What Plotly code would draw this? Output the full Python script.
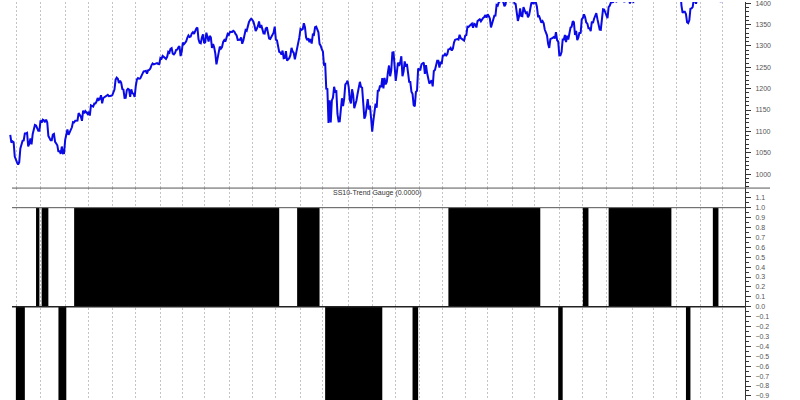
import plotly.graph_objects as go

# ---------------- data ----------------
spx_2010 = [
    ("2010-06-23", 1092.0), ("2010-06-24", 1073.7), ("2010-06-25", 1076.8), ("2010-06-28", 1074.6),
    ("2010-06-29", 1041.2), ("2010-06-30", 1030.7), ("2010-07-01", 1027.4), ("2010-07-02", 1022.6),
    ("2010-07-06", 1028.1), ("2010-07-07", 1060.3), ("2010-07-08", 1070.3), ("2010-07-09", 1078.0),
    ("2010-07-12", 1078.8), ("2010-07-13", 1095.3), ("2010-07-14", 1095.2), ("2010-07-15", 1096.5),
    ("2010-07-16", 1064.9), ("2010-07-19", 1071.3), ("2010-07-20", 1083.5), ("2010-07-21", 1069.6),
    ("2010-07-22", 1093.7), ("2010-07-23", 1102.7), ("2010-07-26", 1115.0), ("2010-07-27", 1113.8),
    ("2010-07-28", 1106.1), ("2010-07-29", 1101.5), ("2010-07-30", 1101.6), ("2010-08-02", 1125.9),
    ("2010-08-03", 1120.5), ("2010-08-04", 1127.2), ("2010-08-05", 1125.8), ("2010-08-06", 1121.6),
    ("2010-08-09", 1127.8), ("2010-08-10", 1121.1), ("2010-08-11", 1089.5), ("2010-08-12", 1083.6),
    ("2010-08-13", 1079.3), ("2010-08-16", 1079.4), ("2010-08-17", 1092.5), ("2010-08-18", 1094.2),
    ("2010-08-19", 1075.6), ("2010-08-20", 1071.7), ("2010-08-23", 1067.4), ("2010-08-24", 1051.9),
    ("2010-08-25", 1055.3), ("2010-08-26", 1047.2), ("2010-08-27", 1064.6), ("2010-08-30", 1048.9),
    ("2010-08-31", 1049.3), ("2010-09-01", 1080.3), ("2010-09-02", 1090.1), ("2010-09-03", 1104.5),
    ("2010-09-07", 1091.8), ("2010-09-08", 1098.9), ("2010-09-09", 1104.2), ("2010-09-10", 1109.6),
    ("2010-09-13", 1121.9), ("2010-09-14", 1121.1), ("2010-09-15", 1125.1), ("2010-09-16", 1124.7),
    ("2010-09-17", 1125.6), ("2010-09-20", 1142.7), ("2010-09-21", 1139.8), ("2010-09-22", 1134.3),
    ("2010-09-23", 1124.8), ("2010-09-24", 1148.7), ("2010-09-27", 1142.2), ("2010-09-28", 1147.7),
    ("2010-09-29", 1144.7), ("2010-09-30", 1141.2), ("2010-10-01", 1146.2), ("2010-10-04", 1137.0),
    ("2010-10-05", 1160.8), ("2010-10-06", 1160.0), ("2010-10-07", 1158.1), ("2010-10-08", 1165.2),
    ("2010-10-11", 1165.3), ("2010-10-12", 1169.8), ("2010-10-13", 1178.1), ("2010-10-14", 1173.8),
    ("2010-10-15", 1176.2), ("2010-10-18", 1184.7), ("2010-10-19", 1165.9), ("2010-10-20", 1178.2),
    ("2010-10-21", 1180.3), ("2010-10-22", 1183.1), ("2010-10-25", 1185.6), ("2010-10-26", 1185.6),
    ("2010-10-27", 1182.4), ("2010-10-28", 1183.8), ("2010-10-29", 1183.3), ("2010-11-01", 1184.4),
    ("2010-11-02", 1193.6), ("2010-11-03", 1198.0), ("2010-11-04", 1221.1), ("2010-11-05", 1225.9),
    ("2010-11-08", 1223.3), ("2010-11-09", 1213.4), ("2010-11-10", 1218.7), ("2010-11-11", 1213.5),
    ("2010-11-12", 1199.2), ("2010-11-15", 1197.8), ("2010-11-16", 1178.3), ("2010-11-17", 1178.6),
    ("2010-11-18", 1196.7), ("2010-11-19", 1199.7), ("2010-11-22", 1197.8), ("2010-11-23", 1180.7),
    ("2010-11-24", 1198.4), ("2010-11-26", 1189.4), ("2010-11-29", 1187.8), ("2010-11-30", 1180.6),
    ("2010-12-01", 1206.1), ("2010-12-02", 1221.5), ("2010-12-03", 1224.7), ("2010-12-06", 1223.1),
    ("2010-12-07", 1223.8), ("2010-12-08", 1228.3), ("2010-12-09", 1233.0), ("2010-12-10", 1240.4),
    ("2010-12-13", 1240.5), ("2010-12-14", 1241.6), ("2010-12-15", 1235.2), ("2010-12-16", 1242.9),
    ("2010-12-17", 1243.9), ("2010-12-20", 1247.1), ("2010-12-21", 1254.6), ("2010-12-22", 1258.8),
    ("2010-12-23", 1256.8), ("2010-12-27", 1257.5), ("2010-12-28", 1258.5), ("2010-12-29", 1259.8),
    ("2010-12-30", 1257.9), ("2010-12-31", 1257.6),
]

spx_2011 = [
    ("2011-01-03", 1271.9), ("2011-01-04", 1270.2), ("2011-01-05", 1276.6), ("2011-01-06", 1273.9),
    ("2011-01-07", 1271.5), ("2011-01-10", 1269.8), ("2011-01-11", 1274.5), ("2011-01-12", 1286.0),
    ("2011-01-13", 1283.8), ("2011-01-14", 1293.2), ("2011-01-18", 1295.0), ("2011-01-19", 1281.9),
    ("2011-01-20", 1280.3), ("2011-01-21", 1283.4), ("2011-01-24", 1290.8), ("2011-01-25", 1291.2),
    ("2011-01-26", 1296.6), ("2011-01-27", 1299.5), ("2011-01-28", 1276.3), ("2011-01-31", 1286.1),
    ("2011-02-01", 1307.6), ("2011-02-02", 1304.0), ("2011-02-03", 1307.1), ("2011-02-04", 1310.9),
    ("2011-02-07", 1319.1), ("2011-02-08", 1324.6), ("2011-02-09", 1320.9), ("2011-02-10", 1321.9),
    ("2011-02-11", 1329.2), ("2011-02-14", 1332.3), ("2011-02-15", 1328.0), ("2011-02-16", 1336.3),
    ("2011-02-17", 1340.4), ("2011-02-18", 1343.0), ("2011-02-22", 1315.4), ("2011-02-23", 1307.4),
    ("2011-02-24", 1306.1), ("2011-02-25", 1319.9), ("2011-02-28", 1327.2), ("2011-03-01", 1306.3),
    ("2011-03-02", 1308.4), ("2011-03-03", 1331.0), ("2011-03-04", 1321.2), ("2011-03-07", 1310.1),
    ("2011-03-08", 1323.3), ("2011-03-09", 1320.0), ("2011-03-10", 1295.1), ("2011-03-11", 1304.3),
    ("2011-03-14", 1296.4), ("2011-03-15", 1281.9), ("2011-03-16", 1256.9), ("2011-03-17", 1273.7),
    ("2011-03-18", 1279.2), ("2011-03-21", 1298.4), ("2011-03-22", 1293.8), ("2011-03-23", 1297.5),
    ("2011-03-24", 1309.7), ("2011-03-25", 1313.8), ("2011-03-28", 1310.2), ("2011-03-29", 1319.4),
    ("2011-03-30", 1328.3), ("2011-03-31", 1325.8), ("2011-04-01", 1332.4), ("2011-04-04", 1332.9),
    ("2011-04-05", 1332.6), ("2011-04-06", 1335.5), ("2011-04-07", 1333.5), ("2011-04-08", 1328.2),
    ("2011-04-11", 1324.5), ("2011-04-12", 1314.2), ("2011-04-13", 1314.4), ("2011-04-14", 1314.5),
    ("2011-04-15", 1319.7), ("2011-04-18", 1305.1), ("2011-04-19", 1312.6), ("2011-04-20", 1330.4),
    ("2011-04-21", 1337.4), ("2011-04-25", 1335.3), ("2011-04-26", 1347.2), ("2011-04-27", 1355.7),
    ("2011-04-28", 1360.5), ("2011-04-29", 1363.6), ("2011-05-02", 1361.2), ("2011-05-03", 1356.6),
    ("2011-05-04", 1347.3), ("2011-05-05", 1335.1), ("2011-05-06", 1340.2), ("2011-05-09", 1346.3),
    ("2011-05-10", 1357.2), ("2011-05-11", 1342.1), ("2011-05-12", 1348.7), ("2011-05-13", 1337.8),
    ("2011-05-16", 1329.5), ("2011-05-17", 1329.0), ("2011-05-18", 1340.7), ("2011-05-19", 1343.6),
    ("2011-05-20", 1333.3), ("2011-05-23", 1317.4), ("2011-05-24", 1316.3), ("2011-05-25", 1320.5),
    ("2011-05-26", 1325.7), ("2011-05-27", 1331.1), ("2011-05-31", 1345.2), ("2011-06-01", 1314.6),
    ("2011-06-02", 1312.9), ("2011-06-03", 1300.2), ("2011-06-06", 1286.2), ("2011-06-07", 1284.9),
    ("2011-06-08", 1279.6), ("2011-06-09", 1289.0), ("2011-06-10", 1271.0), ("2011-06-13", 1271.8),
    ("2011-06-14", 1287.9), ("2011-06-15", 1265.4), ("2011-06-16", 1267.6), ("2011-06-17", 1271.5),
    ("2011-06-20", 1278.4), ("2011-06-21", 1295.5), ("2011-06-22", 1287.1), ("2011-06-23", 1283.5),
    ("2011-06-24", 1268.5), ("2011-06-27", 1280.1), ("2011-06-28", 1296.7), ("2011-06-29", 1307.4),
    ("2011-06-30", 1320.6), ("2011-07-01", 1339.7), ("2011-07-05", 1337.9), ("2011-07-06", 1339.2),
    ("2011-07-07", 1353.2), ("2011-07-08", 1343.8), ("2011-07-11", 1319.5), ("2011-07-12", 1313.6),
    ("2011-07-13", 1317.7), ("2011-07-14", 1308.9), ("2011-07-15", 1316.1), ("2011-07-18", 1305.4),
    ("2011-07-19", 1326.7), ("2011-07-20", 1325.8), ("2011-07-21", 1343.8), ("2011-07-22", 1345.0),
    ("2011-07-25", 1337.4), ("2011-07-26", 1331.9), ("2011-07-27", 1304.9), ("2011-07-28", 1300.7),
    ("2011-07-29", 1292.3), ("2011-08-01", 1286.9), ("2011-08-02", 1254.1), ("2011-08-03", 1260.3),
    ("2011-08-04", 1200.1), ("2011-08-05", 1199.4), ("2011-08-08", 1119.5), ("2011-08-09", 1172.5),
    ("2011-08-10", 1120.8), ("2011-08-11", 1172.6), ("2011-08-12", 1178.8), ("2011-08-15", 1204.5),
    ("2011-08-16", 1192.8), ("2011-08-17", 1193.9), ("2011-08-18", 1140.7), ("2011-08-19", 1123.5),
    ("2011-08-22", 1123.8), ("2011-08-23", 1162.4), ("2011-08-24", 1177.6), ("2011-08-25", 1159.3),
    ("2011-08-26", 1176.8), ("2011-08-29", 1210.1), ("2011-08-30", 1212.9), ("2011-08-31", 1218.9),
    ("2011-09-01", 1204.4), ("2011-09-02", 1174.0), ("2011-09-06", 1165.2), ("2011-09-07", 1198.6),
    ("2011-09-08", 1185.9), ("2011-09-09", 1154.2), ("2011-09-12", 1162.3), ("2011-09-13", 1172.9),
    ("2011-09-14", 1188.7), ("2011-09-15", 1209.1), ("2011-09-16", 1216.0), ("2011-09-19", 1204.1),
    ("2011-09-20", 1202.1), ("2011-09-21", 1166.8), ("2011-09-22", 1129.6), ("2011-09-23", 1136.4),
    ("2011-09-26", 1163.0), ("2011-09-27", 1175.4), ("2011-09-28", 1151.1), ("2011-09-29", 1160.4),
    ("2011-09-30", 1131.4), ("2011-10-03", 1099.2), ("2011-10-04", 1124.0), ("2011-10-05", 1144.0),
    ("2011-10-06", 1165.0), ("2011-10-07", 1155.5), ("2011-10-10", 1194.9), ("2011-10-11", 1195.5),
    ("2011-10-12", 1207.3), ("2011-10-13", 1203.7), ("2011-10-14", 1224.6), ("2011-10-17", 1200.9),
    ("2011-10-18", 1225.4), ("2011-10-19", 1209.9), ("2011-10-20", 1215.4), ("2011-10-21", 1238.3),
    ("2011-10-24", 1254.2), ("2011-10-25", 1229.1), ("2011-10-26", 1242.0), ("2011-10-27", 1284.6),
    ("2011-10-28", 1285.1), ("2011-10-31", 1253.3), ("2011-11-01", 1218.3), ("2011-11-02", 1237.9),
    ("2011-11-03", 1261.2), ("2011-11-04", 1253.2), ("2011-11-07", 1261.1), ("2011-11-08", 1275.9),
    ("2011-11-09", 1229.1), ("2011-11-10", 1239.7), ("2011-11-11", 1263.9), ("2011-11-14", 1251.8),
    ("2011-11-15", 1257.8), ("2011-11-16", 1236.9), ("2011-11-17", 1216.1), ("2011-11-18", 1215.7),
    ("2011-11-21", 1193.0), ("2011-11-22", 1188.0), ("2011-11-23", 1161.8), ("2011-11-25", 1158.7),
    ("2011-11-28", 1192.6), ("2011-11-29", 1195.2), ("2011-11-30", 1247.0), ("2011-12-01", 1244.6),
    ("2011-12-02", 1244.3), ("2011-12-05", 1257.1), ("2011-12-06", 1258.5), ("2011-12-07", 1261.0),
    ("2011-12-08", 1234.4), ("2011-12-09", 1255.2), ("2011-12-12", 1236.5), ("2011-12-13", 1225.7),
    ("2011-12-14", 1211.8), ("2011-12-15", 1215.8), ("2011-12-16", 1219.7), ("2011-12-19", 1205.4),
    ("2011-12-20", 1241.3), ("2011-12-21", 1243.7), ("2011-12-22", 1254.0), ("2011-12-23", 1265.3),
    ("2011-12-27", 1265.4), ("2011-12-28", 1249.6), ("2011-12-29", 1263.0), ("2011-12-30", 1257.6),
]

spx_2012 = [
    ("2012-01-03", 1277.1), ("2012-01-04", 1277.3), ("2012-01-05", 1281.1), ("2012-01-06", 1277.8),
    ("2012-01-09", 1280.7), ("2012-01-10", 1292.1), ("2012-01-11", 1292.5), ("2012-01-12", 1295.5),
    ("2012-01-13", 1289.1), ("2012-01-17", 1293.7), ("2012-01-18", 1308.0), ("2012-01-19", 1314.5),
    ("2012-01-20", 1315.4), ("2012-01-23", 1316.0), ("2012-01-24", 1314.7), ("2012-01-25", 1326.1),
    ("2012-01-26", 1318.4), ("2012-01-27", 1316.3), ("2012-01-30", 1313.0), ("2012-01-31", 1312.4),
    ("2012-02-01", 1324.1), ("2012-02-02", 1325.5), ("2012-02-03", 1344.9), ("2012-02-06", 1344.3),
    ("2012-02-07", 1347.1), ("2012-02-08", 1350.0), ("2012-02-09", 1352.0), ("2012-02-10", 1342.6),
    ("2012-02-13", 1351.8), ("2012-02-14", 1350.5), ("2012-02-15", 1343.2), ("2012-02-16", 1358.0),
    ("2012-02-17", 1361.2), ("2012-02-21", 1362.2), ("2012-02-22", 1357.7), ("2012-02-23", 1363.5),
    ("2012-02-24", 1365.7), ("2012-02-27", 1367.6), ("2012-02-28", 1372.2), ("2012-02-29", 1366.0),
    ("2012-03-01", 1374.1), ("2012-03-02", 1370.0), ("2012-03-05", 1364.3), ("2012-03-06", 1343.4),
    ("2012-03-07", 1352.6), ("2012-03-08", 1366.0), ("2012-03-09", 1370.9), ("2012-03-12", 1371.1),
    ("2012-03-13", 1396.0), ("2012-03-14", 1394.3), ("2012-03-15", 1402.6), ("2012-03-16", 1404.2),
    ("2012-03-19", 1409.8), ("2012-03-20", 1405.5), ("2012-03-21", 1402.9), ("2012-03-22", 1392.8),
    ("2012-03-23", 1397.1), ("2012-03-26", 1416.5), ("2012-03-27", 1412.5), ("2012-03-28", 1405.5),
    ("2012-03-29", 1403.3), ("2012-03-30", 1408.5), ("2012-04-02", 1419.0), ("2012-04-03", 1413.4),
    ("2012-04-04", 1399.0), ("2012-04-05", 1398.1), ("2012-04-09", 1382.2), ("2012-04-10", 1358.6),
    ("2012-04-11", 1368.7), ("2012-04-12", 1387.6), ("2012-04-13", 1370.3), ("2012-04-16", 1369.6),
    ("2012-04-17", 1390.8), ("2012-04-18", 1385.1), ("2012-04-19", 1376.9), ("2012-04-20", 1378.5),
    ("2012-04-23", 1366.9), ("2012-04-24", 1372.0), ("2012-04-25", 1390.7), ("2012-04-26", 1400.0),
    ("2012-04-27", 1403.4), ("2012-04-30", 1397.9), ("2012-05-01", 1405.8), ("2012-05-02", 1402.3),
    ("2012-05-03", 1391.6), ("2012-05-04", 1369.1), ("2012-05-07", 1369.6), ("2012-05-08", 1363.7),
    ("2012-05-09", 1354.6), ("2012-05-10", 1358.0), ("2012-05-11", 1353.4), ("2012-05-14", 1338.4),
    ("2012-05-15", 1330.7), ("2012-05-16", 1324.8), ("2012-05-17", 1304.9), ("2012-05-18", 1295.2),
    ("2012-05-21", 1316.0), ("2012-05-22", 1316.6), ("2012-05-23", 1318.9), ("2012-05-24", 1320.7),
    ("2012-05-25", 1317.8), ("2012-05-29", 1332.4), ("2012-05-30", 1313.3), ("2012-05-31", 1310.3),
    ("2012-06-01", 1278.0), ("2012-06-04", 1278.2), ("2012-06-05", 1285.5), ("2012-06-06", 1315.1),
    ("2012-06-07", 1315.0), ("2012-06-08", 1325.7), ("2012-06-11", 1308.9), ("2012-06-12", 1324.2),
    ("2012-06-13", 1314.9), ("2012-06-14", 1329.1), ("2012-06-15", 1342.8), ("2012-06-18", 1344.8),
    ("2012-06-19", 1358.0), ("2012-06-20", 1355.7), ("2012-06-21", 1325.5), ("2012-06-22", 1335.0),
    ("2012-06-25", 1313.7), ("2012-06-26", 1320.0), ("2012-06-27", 1331.9), ("2012-06-28", 1329.0),
    ("2012-06-29", 1362.2), ("2012-07-02", 1365.5), ("2012-07-03", 1374.0), ("2012-07-05", 1367.6),
    ("2012-07-06", 1354.7), ("2012-07-09", 1352.5), ("2012-07-10", 1341.5), ("2012-07-11", 1341.5),
    ("2012-07-12", 1334.8), ("2012-07-13", 1356.8), ("2012-07-16", 1353.6), ("2012-07-17", 1363.7),
    ("2012-07-18", 1372.8), ("2012-07-19", 1376.5), ("2012-07-20", 1362.7), ("2012-07-23", 1350.5),
    ("2012-07-24", 1338.3), ("2012-07-25", 1337.9), ("2012-07-26", 1360.0), ("2012-07-27", 1386.0),
    ("2012-07-30", 1385.3), ("2012-07-31", 1379.3), ("2012-08-01", 1375.3), ("2012-08-02", 1365.0),
    ("2012-08-03", 1391.0), ("2012-08-06", 1394.2), ("2012-08-07", 1401.4), ("2012-08-08", 1402.2),
    ("2012-08-09", 1402.8), ("2012-08-10", 1405.9), ("2012-08-13", 1404.1), ("2012-08-14", 1403.9),
    ("2012-08-15", 1405.5), ("2012-08-16", 1415.5), ("2012-08-17", 1418.2), ("2012-08-20", 1418.1),
    ("2012-08-21", 1413.2), ("2012-08-22", 1413.5), ("2012-08-23", 1402.1), ("2012-08-24", 1411.1),
    ("2012-08-27", 1410.4), ("2012-08-28", 1409.3), ("2012-08-29", 1410.5), ("2012-08-30", 1399.5),
    ("2012-08-31", 1406.6), ("2012-09-04", 1404.9), ("2012-09-05", 1403.4), ("2012-09-06", 1432.1),
    ("2012-09-07", 1437.9), ("2012-09-10", 1429.1), ("2012-09-11", 1433.6), ("2012-09-12", 1436.6),
    ("2012-09-13", 1460.0), ("2012-09-14", 1465.8), ("2012-09-17", 1461.2), ("2012-09-18", 1459.3),
    ("2012-09-19", 1461.1), ("2012-09-20", 1460.3), ("2012-09-21", 1460.2), ("2012-09-24", 1456.9),
    ("2012-09-25", 1441.6), ("2012-09-26", 1433.3), ("2012-09-27", 1447.2), ("2012-09-28", 1440.7),
    ("2012-10-01", 1444.5), ("2012-10-02", 1445.8), ("2012-10-03", 1451.0), ("2012-10-04", 1461.4),
    ("2012-10-05", 1460.9), ("2012-10-08", 1455.9), ("2012-10-09", 1441.5), ("2012-10-10", 1432.6),
    ("2012-10-11", 1432.8), ("2012-10-12", 1428.6), ("2012-10-15", 1440.1), ("2012-10-16", 1454.9),
    ("2012-10-17", 1460.9), ("2012-10-18", 1457.3), ("2012-10-19", 1433.2), ("2012-10-22", 1433.8),
    ("2012-10-23", 1413.1), ("2012-10-24", 1408.8), ("2012-10-25", 1413.0), ("2012-10-26", 1411.9),
    ("2012-10-31", 1412.2), ("2012-11-01", 1427.6), ("2012-11-02", 1414.2), ("2012-11-05", 1417.3),
    ("2012-11-06", 1428.4), ("2012-11-07", 1394.5), ("2012-11-08", 1377.5), ("2012-11-09", 1379.9),
    ("2012-11-12", 1380.0), ("2012-11-13", 1374.5), ("2012-11-14", 1355.5), ("2012-11-15", 1353.3),
    ("2012-11-16", 1359.9), ("2012-11-19", 1386.9), ("2012-11-20", 1387.8), ("2012-11-21", 1391.0),
    ("2012-11-23", 1409.2), ("2012-11-26", 1406.3), ("2012-11-27", 1398.9), ("2012-11-28", 1409.9),
    ("2012-11-29", 1416.0), ("2012-11-30", 1416.2), ("2012-12-03", 1409.5), ("2012-12-04", 1407.1),
    ("2012-12-05", 1409.3), ("2012-12-06", 1413.9), ("2012-12-07", 1418.1), ("2012-12-10", 1418.6),
    ("2012-12-11", 1427.8), ("2012-12-12", 1428.5), ("2012-12-13", 1419.5), ("2012-12-14", 1413.6),
    ("2012-12-17", 1430.4), ("2012-12-18", 1446.8), ("2012-12-19", 1435.8), ("2012-12-20", 1443.7),
    ("2012-12-21", 1430.2), ("2012-12-24", 1426.7), ("2012-12-26", 1419.8), ("2012-12-27", 1418.1),
    ("2012-12-28", 1402.4), ("2012-12-31", 1426.2),
]

# SS10-Trend Gauge: date where the gauge changes, and its new value
gauge_dates = [
    "2010-06-30", "2010-07-13", "2010-07-27", "2010-07-30", "2010-08-03", "2010-08-11",
    "2010-08-24", "2010-09-02", "2010-09-14", "2011-06-06", "2011-06-28", "2011-07-27",
    "2011-08-03", "2011-10-14", "2011-11-22", "2011-11-30", "2012-01-10", "2012-05-08",
    "2012-05-31", "2012-06-06", "2012-07-02", "2012-07-10", "2012-08-03", "2012-10-23",
    "2012-11-13", "2012-11-19", "2012-12-18", "2012-12-26", "2012-12-31",
]
gauge_vals = [
    -1, 0, 1, 0, 1, 0,
    -1, 0, 1, 0, 1, 0,
    -1, 0, -1, 0, 1, 0,
    -1, 0, 1, 0, 1, 0,
    -1, 0, 1, 0, 0,
]

# first trading day of each month (vertical grid)
month_starts = [
    "2010-07-01", "2010-08-02", "2010-09-01", "2010-10-01", "2010-11-01", "2010-12-01",
    "2011-01-03", "2011-02-01", "2011-03-01", "2011-04-01", "2011-05-02", "2011-06-01",
    "2011-07-01", "2011-08-01", "2011-09-01", "2011-10-03", "2011-11-01", "2011-12-01",
    "2012-01-03", "2012-02-01", "2012-03-01", "2012-04-02", "2012-05-01", "2012-06-01",
    "2012-07-02", "2012-08-01", "2012-09-04", "2012-10-01", "2012-11-01", "2012-12-03",
    "2013-01-02",
]

# market holidays (non-trading weekdays)
holidays = [
    "2010-07-05", "2010-09-06", "2010-11-25", "2010-12-24",
    "2011-01-17", "2011-02-21", "2011-04-22", "2011-05-30", "2011-07-04", "2011-09-05",
    "2011-11-24", "2011-12-26",
    "2012-01-02", "2012-01-16", "2012-02-20", "2012-04-06", "2012-05-28", "2012-07-04",
    "2012-09-03", "2012-10-29", "2012-10-30", "2012-11-22", "2012-12-25",
    "2013-01-01", "2013-01-21",
]

gauge_title = "SS10-Trend Gauge (0.0000)"

# ---------------- figure ----------------
spx = spx_2010 + spx_2011 + spx_2012
price_dates = [d for d, _ in spx]
price_close = [c for _, c in spx]

W, H = 800, 400
PLOT_R = 745          # right edge of plot area (px)
SPLIT = 187           # panel separator (px from top)
split_paper = (H - SPLIT) / H
x_range = ["2010-06-09 20:00", "2013-01-30 16:48"]

fig = go.Figure()
fig.add_trace(go.Scatter(
    x=price_dates, y=price_close, mode="lines",
    line=dict(color="#0a0ae6", width=2), xaxis="x", yaxis="y",
    hoverinfo="skip",
))
fig.add_trace(go.Scatter(
    x=gauge_dates, y=gauge_vals, mode="lines", line_shape="hv",
    line=dict(color="black", width=0), fill="tozeroy", fillcolor="black",
    xaxis="x2", yaxis="y2", hoverinfo="skip",
))

rb = [dict(bounds=["sat", "mon"]), dict(values=holidays)]
grid = dict(
    type="date", range=x_range, rangebreaks=rb,
    tickmode="array", tickvals=month_starts,
    showticklabels=False, ticks="", showgrid=True,
    gridcolor="#c4c4c4", gridwidth=1, griddash="2px,2px",
    showline=False, zeroline=False, fixedrange=True,
)
tickfont = dict(family="Liberation Sans, Arial, sans-serif", size=7, color="#555555")

fig.update_layout(
    width=W, height=H, autosize=False,
    margin=dict(l=0, r=W - PLOT_R, t=0, b=0, pad=0),
    paper_bgcolor="white", plot_bgcolor="white",
    showlegend=False,
    xaxis=dict(domain=[0, 1], anchor="y", **grid),
    xaxis2=dict(domain=[0, 1], anchor="y2", matches="x", **grid),
    yaxis=dict(
        domain=[split_paper, 1], anchor="x", side="right",
        range=[967.4, 1402.8], tick0=0, dtick=50,
        ticks="outside", ticklen=5, tickwidth=1, tickcolor="#333333",
        minor=dict(dtick=10, ticks="outside", ticklen=3, tickcolor="#333333"),
        showgrid=False, zeroline=False, showline=True, linecolor="#333333", linewidth=1,
        tickfont=tickfont, ticklabelstandoff=3, ticklabeloverflow="allow",
    ),
    yaxis2=dict(
        domain=[0, split_paper], anchor="x2", side="right",
        range=[-0.941, 1.198], tick0=0, dtick=0.1, tickformat=".1f",
        ticks="outside", ticklen=5, tickwidth=1, tickcolor="#333333",
        minor=dict(dtick=0.05, ticks="outside", ticklen=3, tickcolor="#333333"),
        showgrid=False, zeroline=False, showline=True, linecolor="#333333", linewidth=1,
        tickfont=tickfont, ticklabelstandoff=3, ticklabeloverflow="allow",
    ),
)

x_first = 12 / PLOT_R
fig.add_shape(type="line", xref="paper", yref="paper",
              x0=x_first, x1=770 / PLOT_R, y0=split_paper, y1=split_paper,
              line=dict(color="#555555", width=1))
fig.add_shape(type="line", xref="paper", yref="y2",
              x0=x_first, x1=1, y0=1, y1=1,
              line=dict(color="#555555", width=1))
fig.add_shape(type="line", xref="paper", yref="y2",
              x0=x_first, x1=1, y0=0, y1=0,
              line=dict(color="#222222", width=1.5))

fig.add_annotation(
    text=gauge_title, xref="paper", yref="paper",
    x=377 / PLOT_R, y=(H - 192) / H, showarrow=False,
    xanchor="center", yanchor="middle",
    font=dict(family="Liberation Sans, Arial, sans-serif", size=7, color="#333333"),
)

fig.write_html("out.html", config={"displayModeBar": False},
               post_script="document.body.style.margin='0';document.body.style.overflow='hidden';")
